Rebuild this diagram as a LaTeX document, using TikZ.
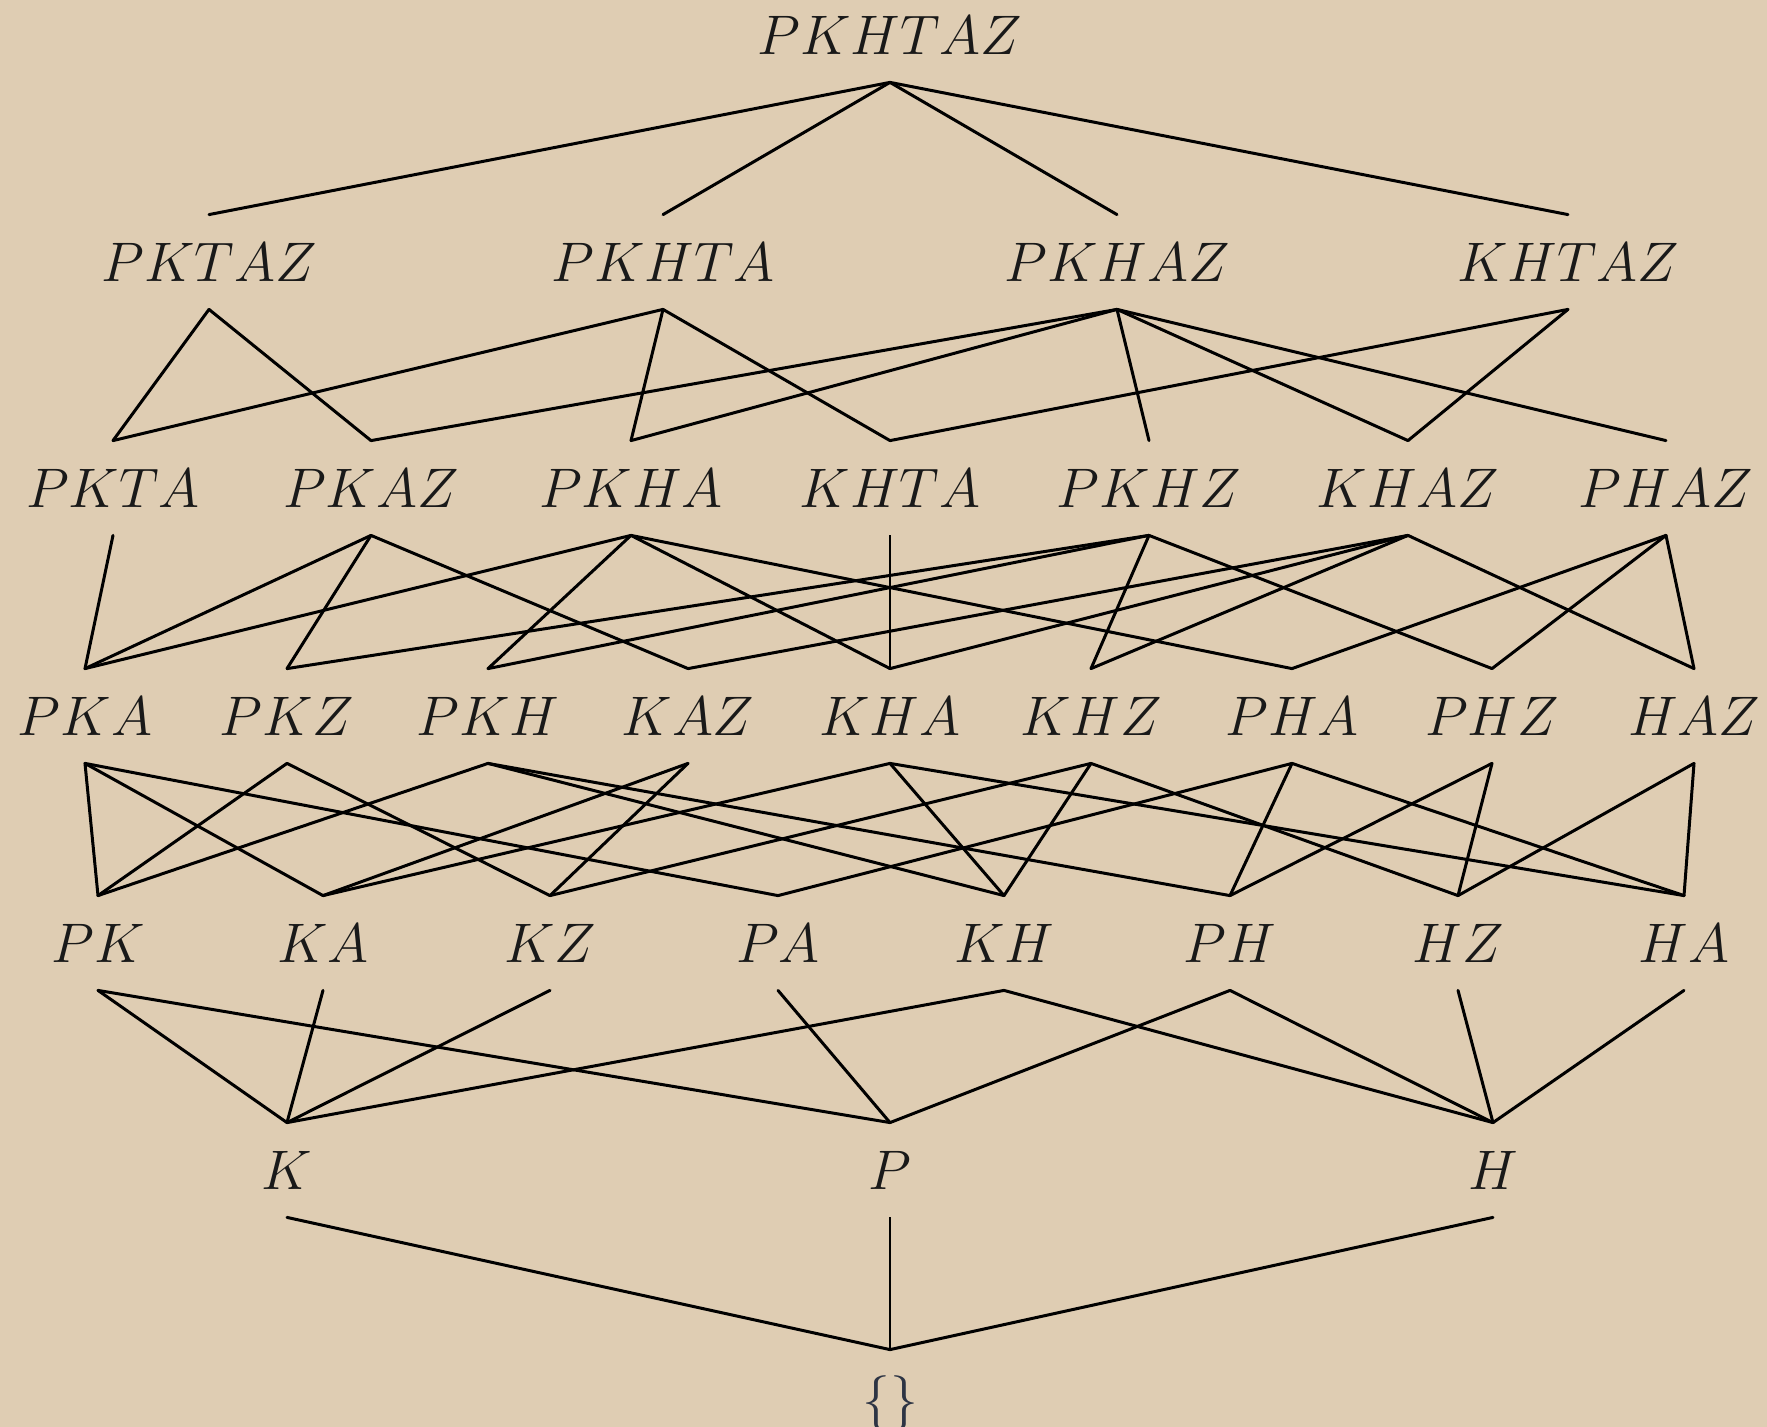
\documentclass[tikz,border=0pt]{standalone}
\usepackage{graphicx}
\definecolor{paper}{RGB}{223,205,179}
\definecolor{ink}{RGB}{25,25,25}
\definecolor{braceink}{RGB}{45,52,68}
\newcommand{\lab}[1]{\scalebox{1.12}{\fontsize{24.88}{30}\selectfont$#1$}}
\tikzset{
  lbl/.style={text=ink, inner sep=0pt, minimum height=47pt, text depth=0pt},
  edge/.style={draw=black, line width=1.5pt, line cap=round},
  vedge/.style={draw=black, line width=0.9pt}
}
\begin{document}
\begin{tikzpicture}[x=0.5pt, y=-0.5pt]
\useasboundingbox (0,0) rectangle (1767,1427);
\fill[paper] (0,0) rectangle (1767,1427);
% top
\node[lbl] (PKHTAZ) at (890,35) {\lab{PKHTAZ}};
% layer 5
\node[lbl] (PKTAZ) at (209,262) {\lab{PKTAZ}};
\node[lbl] (PKHTA) at (663,262) {\lab{PKHTA}};
\node[lbl] (PKHAZ) at (1117,262) {\lab{PKHAZ}};
\node[lbl] (KHTAZ) at (1568,262) {\lab{KHTAZ}};
% layer 4
\node[lbl] (PKTA) at (113,488) {\lab{PKTA}};
\node[lbl] (PKAZ) at (371,488) {\lab{PKAZ}};
\node[lbl] (PKHA) at (631,488) {\lab{PKHA}};
\node[lbl] (KHTA) at (890,488) {\lab{KHTA}};
\node[lbl] (PKHZ) at (1149,488) {\lab{PKHZ}};
\node[lbl] (KHAZ) at (1408,488) {\lab{KHAZ}};
\node[lbl] (PHAZ) at (1666,488) {\lab{PHAZ}};
% layer 3
\node[lbl] (PKA) at (85,716) {\lab{PKA}};
\node[lbl] (PKZ) at (287,716) {\lab{PKZ}};
\node[lbl] (PKH) at (488,716) {\lab{PKH}};
\node[lbl] (KAZ) at (688,716) {\lab{KAZ}};
\node[lbl] (KHA) at (890,716) {\lab{KHA}};
\node[lbl] (KHZ) at (1091,716) {\lab{KHZ}};
\node[lbl] (PHA) at (1292,716) {\lab{PHA}};
\node[lbl] (PHZ) at (1492,716) {\lab{PHZ}};
\node[lbl] (HAZ) at (1694,716) {\lab{HAZ}};
% layer 2
\node[lbl] (PK) at (98,943) {\lab{PK}};
\node[lbl] (KA) at (323,943) {\lab{KA}};
\node[lbl] (KZ) at (550,943) {\lab{KZ}};
\node[lbl] (PA) at (778,943) {\lab{PA}};
\node[lbl] (KH) at (1004,943) {\lab{KH}};
\node[lbl] (PH) at (1230,943) {\lab{PH}};
\node[lbl] (HZ) at (1458,943) {\lab{HZ}};
\node[lbl] (HA) at (1684,943) {\lab{HA}};
% layer 1
\node[lbl] (K) at (287,1170) {\lab{K}};
\node[lbl] (P) at (890,1170) {\lab{P}};
\node[lbl] (H) at (1493,1170) {\lab{H}};
% bottom
\node[lbl, text=braceink] (empty) at (890,1397) {\scalebox{1.12}{\fontsize{24.88}{30}\selectfont\{\}}};
% edges
\foreach \a/\b in {PKHTAZ/PKTAZ, PKHTAZ/PKHTA, PKHTAZ/PKHAZ, PKHTAZ/KHTAZ,
  PKTAZ/PKTA, PKTAZ/PKAZ, PKHTA/PKTA, PKHTA/PKHA, PKHTA/KHTA,
  PKHAZ/PKAZ, PKHAZ/PKHA, PKHAZ/PKHZ, PKHAZ/KHAZ, PKHAZ/PHAZ,
  KHTAZ/KHTA, KHTAZ/KHAZ,
  PKTA/PKA, PKAZ/PKA, PKAZ/PKZ, PKAZ/KAZ,
  PKHA/PKA, PKHA/PKH, PKHA/KHA, PKHA/PHA,
  PKHZ/PKZ, PKHZ/PKH, PKHZ/KHZ, PKHZ/PHZ,
  KHAZ/KAZ, KHAZ/KHA, KHAZ/KHZ, KHAZ/HAZ,
  PHAZ/PHA, PHAZ/PHZ, PHAZ/HAZ,
  PKA/PK, PKA/KA, PKA/PA, PKZ/PK, PKZ/KZ,
  PKH/PK, PKH/KH, PKH/PH, KAZ/KA, KAZ/KZ,
  KHA/KA, KHA/KH, KHA/HA, KHZ/KZ, KHZ/KH, KHZ/HZ,
  PHA/PA, PHA/PH, PHA/HA, PHZ/PH, PHZ/HZ, HAZ/HZ, HAZ/HA,
  PK/K, KA/K, KZ/K, KH/K, PK/P, PA/P, PH/P,
  KH/H, PH/H, HZ/H, HA/H,
  K/empty, H/empty}
  \draw[edge] (\a.south) -- (\b.north);
\draw[vedge] (KHTA.south) -- (KHA.north);
\draw[vedge] (P.south) -- (empty.north);
\end{tikzpicture}
\end{document}
